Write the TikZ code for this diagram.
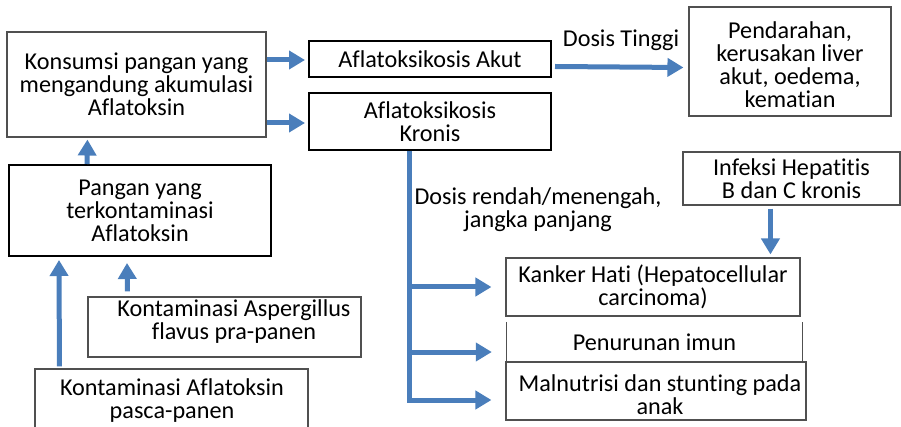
\documentclass[tikz,border=0pt]{standalone}
\usepackage{fontspec}
\setmainfont{Carlito}[Ligatures=NoCommon]
\usetikzlibrary{arrows.meta,calc}
\definecolor{arrblue}{HTML}{4A7EBB}
\definecolor{edgegray}{HTML}{505050}
\begin{document}
\begin{tikzpicture}[x=1pt,y=-1pt,
  every node/.style={font=\fontsize{24.2}{23}\selectfont, align=center, inner sep=0pt},
  thinbox/.style={draw=edgegray, line width=1.1pt, rectangle},
  thickbox/.style={draw=black, line width=2pt, rectangle},
  plainbox/.style={rectangle},
  txt/.style={},
  arr/.style={draw=arrblue, line width=5pt, -{Triangle[length=16pt,width=18pt]}},
  trunk/.style={draw=arrblue, line width=5pt}]
\clip (0,0) rectangle (901,427);
% boxes
\node[thinbox, minimum width=259pt, minimum height=105pt] (kons) at (136.5,84.5) {Konsumsi pangan yang\\mengandung akumulasi\\Aflatoksin};
\node[thickbox, minimum width=242pt, minimum height=36pt] (akut) at (430,59) {Aflatoksikosis Akut};
\node[thickbox, minimum width=242pt, minimum height=57pt] (kronis) at (430,121.5) {Aflatoksikosis\\Kronis};
\node[thinbox, minimum width=202pt, minimum height=109pt] (pend) at (790,61.5) {};
\node[txt] (pendt) at (790,65) {Pendarahan,\\kerusakan liver\\akut, oedema,\\kematian};
\node[thickbox, minimum width=262pt, minimum height=91pt] (pangan) at (140,210.5) {Pangan yang\\terkontaminasi\\Aflatoksin};
\node[thinbox, minimum width=273pt, minimum height=60pt] (asp) at (224.5,327) {};
\node[txt] (aspt) at (234,322) {Kontaminasi Aspergillus\\flavus pra-panen};
\node[thinbox, minimum width=273pt, minimum height=70pt] (kafl) at (171.5,404) {};
\node[txt] (kaflt) at (172,401) {Kontaminasi Aflatoksin\\pasca-panen};
\node[thinbox, minimum width=217pt, minimum height=53pt] (inf) at (791.5,178.5) {Infeksi Hepatitis\\B dan C kronis};
\node[thinbox, minimum width=294pt, minimum height=58pt] (kank) at (653,287) {Kanker Hati (Hepatocellular\\carcinoma)};
\node[plainbox, minimum width=295pt, minimum height=40pt] (pen) at (654.5,342) {Penurunan imun};
\draw[edgegray, line width=1.1pt] (pen.north west) -- (pen.south west) -- (pen.south east) -- (pen.north east);
\node[thinbox, minimum width=300pt, minimum height=58pt] (mal) at (656,391) {};
\node[txt] (malt) at (660,395) {Malnutrisi dan stunting pada\\anak};
% labels
\node[txt] (ltinggi) at (621,40) {Dosis Tinggi};
\node[txt] (lrendah) at (538,210) {Dosis rendah/menengah,\\jangka panjang};
% arrows
\draw[arr] ($(kons.east)+(0,-24.5)$) -- ($(akut.west)+(-3,1)$);
\draw[arr] ($(kons.east)+(0,38.5)$) -- ($(kronis.west)+(-3,1.5)$);
\draw[arr] ($(akut.east)+(3,7.5)$) -- ($(pend.west)+(-5,6)$);
\draw[arr] ($(pangan.north west)+(79,0)$) -- ($(kons.south west)+(81,2)$);
\draw[arr] ($(kafl.north west)+(25,-2)$) -- ($(pangan.south west)+(51,3)$);
\draw[arr] ($(asp.north west)+(40,-5)$) -- ($(pangan.south west)+(119,6)$);
\draw[arr] ($(inf.south west)+(88,3)$) -- ($(kank.north west)+(265,-3)$);
% trunk
\coordinate (ttop) at ($(kronis.south west)+(101,0)$);
\coordinate (b3) at ($(mal.west)+(-14,9)$);
\draw[arr] (ttop) |- (b3);
\draw[arr] (ttop |- kank.west) -- ($(kank.west)+(-14,0)$);
\draw[arr] ($(ttop |- pen.west)+(0,10)$) -- ($(pen.west)+(-15,10)$);
\end{tikzpicture}
\end{document}
